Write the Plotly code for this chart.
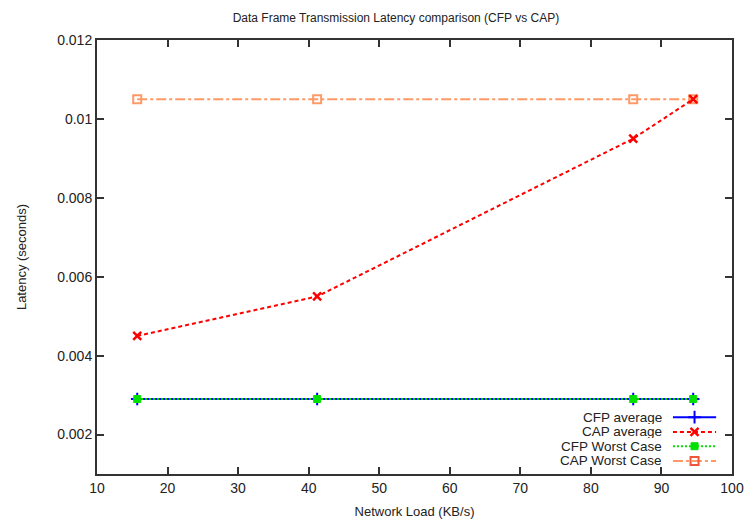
import plotly.graph_objects as go

# Measured network loads (KB/s)
network_load = [15.7, 41.2, 86.0, 94.5]

# Latency values in seconds
cfp_average = [0.0029, 0.0029, 0.0029, 0.0029]
cap_average = [0.0045, 0.0055, 0.0095, 0.0105]
cfp_worst = [0.0029, 0.0029, 0.0029, 0.0029]
cap_worst = [0.0105, 0.0105, 0.0105, 0.0105]

series_names = ["CFP average", "CAP average", "CFP Worst Case", "CAP Worst Case"]

x_ticks = [10, 20, 30, 40, 50, 60, 70, 80, 90, 100]
y_ticks = [0.002, 0.004, 0.006, 0.008, 0.010, 0.012]
y_tick_text = ["0.002", "0.004", "0.006", "0.008", "0.01", "0.012"]

FONT = "Liberation Sans, Arial, sans-serif"
TEXT = "#222222"

styles = [
    dict(line=dict(color="#0000ff", width=2, dash="solid"),
         marker=dict(symbol="cross-thin", size=9, line=dict(color="#0000ff", width=2))),
    dict(line=dict(color="#ff0000", width=2, dash="4px,3px"),
         marker=dict(symbol="x-thin", size=8, line=dict(color="#ff0000", width=2.5))),
    dict(line=dict(color="#00e000", width=2, dash="2px,2px"),
         marker=dict(symbol="square", size=7, color="#00e000", line=dict(color="#00e000", width=1))),
    dict(line=dict(color="#ff9a66", width=2, dash="10px,3px,3px,3px"),
         marker=dict(symbol="square-open", size=8, line=dict(color="#ff5a10", width=2))),
]

fig = go.Figure()

# Draw the CFP lines last so the green dotted line sits over the blue one
order = [3, 1, 0, 2]
data = [cfp_average, cap_average, cfp_worst, cap_worst]
for i in order:
    fig.add_trace(go.Scatter(
        x=network_load, y=data[i], mode="lines+markers", name=series_names[i],
        line=styles[i]["line"], marker=styles[i]["marker"], showlegend=False,
    ))

# Legend block in the lower-right corner: label on the left, key on the right
legend_y = [0.131, 0.097, 0.064, 0.030]
label_x = 0.891
key_x0, key_x1, key_mid = 0.907, 0.975, 0.941
for i, name in enumerate(series_names):
    fig.add_annotation(
        xref="x2", yref="y2", x=label_x, y=legend_y[i], text=name,
        showarrow=False, xanchor="right", yanchor="middle",
        height=13, borderpad=0,
        font=dict(family=FONT, size=13.5, color=TEXT),
    )
    fig.add_trace(go.Scatter(
        x=[key_x0, key_x1], y=[legend_y[i], legend_y[i]], mode="lines",
        line=styles[i]["line"], xaxis="x2", yaxis="y2", showlegend=False,
        hoverinfo="skip",
    ))
    fig.add_trace(go.Scatter(
        x=[key_mid], y=[legend_y[i]], mode="markers",
        marker=styles[i]["marker"], xaxis="x2", yaxis="y2", showlegend=False,
        hoverinfo="skip",
    ))

axis_common = dict(
    showgrid=False, zeroline=False, showline=True, linecolor="#333333",
    linewidth=2, mirror="ticks", ticks="inside", ticklen=7, tickwidth=1.5,
    tickcolor="#333333", automargin=False,
    tickfont=dict(family=FONT, size=14, color=TEXT),
)

fig.update_layout(
    width=747, height=520,
    margin=dict(l=97, r=15, t=40, b=46, autoexpand=False),
    paper_bgcolor="white", plot_bgcolor="white",
    title=dict(text="Data Frame Transmission Latency comparison (CFP vs CAP)",
               x=0.53, xanchor="center", y=0.965, yanchor="middle",
               font=dict(family=FONT, size=12, color=TEXT)),
    xaxis=dict(range=[10, 100], tickvals=x_ticks,
               title=dict(text="Network Load (KB/s)", standoff=12,
                          font=dict(family=FONT, size=13, color=TEXT)),
               **axis_common),
    yaxis=dict(range=[0.001, 0.012], tickvals=y_ticks, ticktext=y_tick_text,
               title=dict(text="Latency (seconds)", standoff=28,
                          font=dict(family=FONT, size=13, color=TEXT)),
               **axis_common),
    xaxis2=dict(overlaying="x", range=[0, 1], visible=False, fixedrange=True),
    yaxis2=dict(overlaying="y", range=[0, 1], visible=False, fixedrange=True),
    showlegend=False,
)

fig.write_html("out.html")
